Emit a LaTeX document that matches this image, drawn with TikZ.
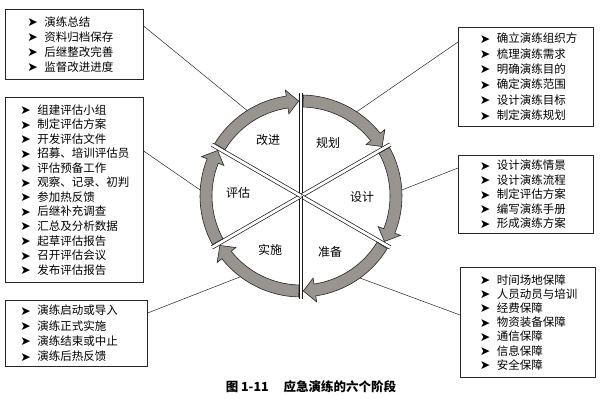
\documentclass[tikz,border=0pt]{standalone}
\usepackage{fontspec}
\setmainfont{Noto Sans CJK SC}
\newfontfamily\symf{DejaVu Sans}
\usetikzlibrary{calc}
\definecolor{ringgray}{RGB}{152,148,143}
\newcommand\blt{\makebox[17pt][l]{\raisebox{-0.5pt}{\symf\fontsize{12.5}{12.5}\selectfont ➤}}}
\newcommand\ringarrow[2]{%
  \filldraw[ringarrow] (#1:101) arc[start angle=#1, end angle={#2+7}, radius=101]
    -- ({#2+7}:107) -- (#2:95) -- ({#2+7}:83) -- ({#2+7}:89)
    arc[start angle={#2+7}, end angle=#1, radius=89] -- cycle;}
\tikzset{
  ringarrow/.style={fill=ringgray, draw=black!85, line width=0.6pt, line join=miter},
  sepline/.style={draw=black!90, line width=0.7pt, double=white, double distance=2.8pt},
  callbox/.style={draw=black!85, line width=0.6pt, anchor=north west, inner xsep=0pt, inner ysep=0pt, align=left},
  conn/.style={draw=black!85, line width=0.5pt},
  phase/.style={font=\fontsize{12}{12}\selectfont},
}
\begin{document}
\begin{tikzpicture}[x=1pt,y=-1pt]
\useasboundingbox[fill=white] (0,0) rectangle (600,401);

% ring
\begin{scope}[shift={(301,196)}, yscale=-1]
  \foreach \s in {90,30,-30,-90,-150,150} \draw[sepline] (0,0) -- (\s:103);
  \ringarrow{88.7}{31.4}
  \ringarrow{28.7}{-28.6}
  \ringarrow{-31.3}{-88.6}
  \ringarrow{-91.3}{-148.6}
  \ringarrow{-151.3}{-208.6}
  \ringarrow{148.7}{91.4}
  \coordinate (c1) at (122.2:101);
  \coordinate (c2) at (176.6:101);
  \coordinate (c3) at (233.1:101);
  \coordinate (c4) at (56.5:101);
  \coordinate (c5) at (3.4:101);
  \coordinate (c6) at (-54.3:101);
\end{scope}

% phase labels
\node[phase] (gj) at (268,140) {改进};
\node[phase] (gh) at (328,143) {规划};
\node[phase] (sj) at (362,197) {设计};
\node[phase] (zb) at (330,252) {准备};
\node[phase] (ss) at (270,250) {实施};
\node[phase] (pg) at (238,193) {评估};

% boxes
\node[callbox, minimum width=138pt, minimum height=70pt, text width=116pt,
      font=\fontsize{11.5}{15}\selectfont] (b1) at (5,9)
  {\hspace*{11pt}\blt 演练总结\\\hspace*{11pt}\blt 资料归档保存\\\hspace*{11pt}\blt 后继整改完善\\\hspace*{11pt}\blt 监督改进进度};
\node[callbox, minimum width=138pt, minimum height=185pt, text width=130pt,
      font=\fontsize{11.5}{14.55}\selectfont] (b2) at (5,97)
  {\hspace*{11pt}\blt 组建评估小组\\\hspace*{11pt}\blt 制定评估方案\\\hspace*{11pt}\blt 开发评估文件\\\hspace*{11pt}\blt 招募、培训评估员\\\hspace*{11pt}\blt 评估预备工作\\\hspace*{11pt}\blt 观察、记录、初判\\\hspace*{11pt}\blt 参加热反馈\\\hspace*{11pt}\blt 后继补充调查\\\hspace*{11pt}\blt 汇总及分析数据\\\hspace*{11pt}\blt 起草评估报告\\\hspace*{11pt}\blt 召开评估会议\\\hspace*{11pt}\blt 发布评估报告};
\node[callbox, minimum width=142pt, minimum height=66pt, text width=134pt,
      font=\fontsize{11.5}{15.3}\selectfont] (b3) at (5,300)
  {\hspace*{11pt}\blt 演练启动或导入\\\hspace*{11pt}\blt 演练正式实施\\\hspace*{11pt}\blt 演练结束或中止\\\hspace*{11pt}\blt 演练后热反馈};
\node[callbox, minimum width=135pt, minimum height=99pt, text width=130pt,
      font=\fontsize{11.5}{15.4}\selectfont] (b4) at (458,27)
  {\hspace*{19pt}\blt 确立演练组织方\\\hspace*{19pt}\blt 梳理演练需求\\\hspace*{19pt}\blt 明确演练目的\\\hspace*{19pt}\blt 确定演练范围\\\hspace*{19pt}\blt 设计演练目标\\\hspace*{19pt}\blt 制定演练规划};
\node[callbox, minimum width=135pt, minimum height=78pt, text width=130pt,
      font=\fontsize{11.5}{14.5}\selectfont] (b5) at (458,155)
  {\hspace*{19pt}\blt 设计演练情景\\\hspace*{19pt}\blt 设计演练流程\\\hspace*{19pt}\blt 制定评估方案\\\hspace*{19pt}\blt 编写演练手册\\\hspace*{19pt}\blt 形成演练方案};
\node[callbox, minimum width=135pt, minimum height=110pt, text width=130pt,
      font=\fontsize{11.5}{14.2}\selectfont] (b6) at (460,267)
  {\hspace*{17pt}\blt 时间场地保障\\\hspace*{17pt}\blt 人员动员与培训\\\hspace*{17pt}\blt 经费保障\\\hspace*{17pt}\blt 物资装备保障\\\hspace*{17pt}\blt 通信保障\\\hspace*{17pt}\blt 信息保障\\\hspace*{17pt}\blt 安全保障};

% connectors
\coordinate (y1) at (0,26);
\coordinate (y2) at (0,151);
\coordinate (y3) at (0,313);
\coordinate (y4) at (0,42);
\coordinate (y5) at (0,168);
\coordinate (y6) at (0,315);
\draw[conn] (b1.east |- y1) -- (c1);
\draw[conn] (b2.east |- y2) -- (c2);
\draw[conn] (b3.east |- y3) -- (c3);
\draw[conn] (b4.west |- y4) -- (c4);
\draw[conn] (b5.west |- y5) -- (c5);
\draw[conn] (b6.west |- y6) -- (c6);

% caption
\node[font=\bfseries\fontsize{12.5}{12.5}\selectfont] (cap) at (311,387) {图 1-11\hspace{1.2em}应急演练的六个阶段};
\end{tikzpicture}
\end{document}
